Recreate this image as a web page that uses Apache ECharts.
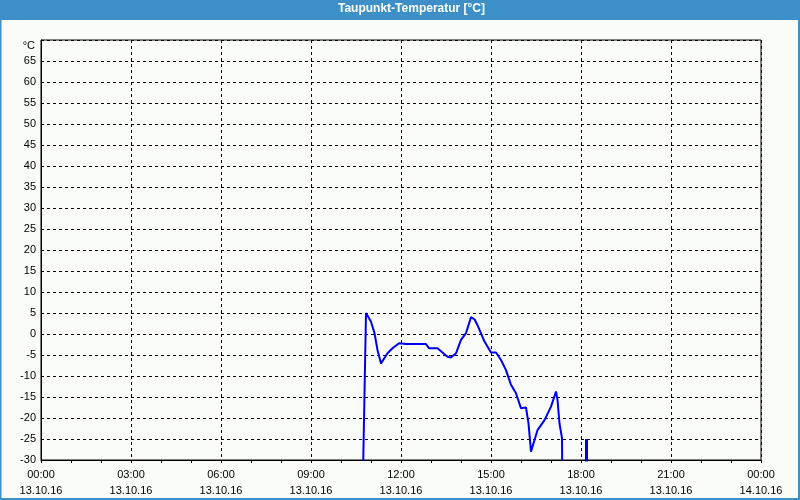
<!DOCTYPE html>
<html>
<head>
<meta charset="utf-8">
<script src="https://cdn.jsdelivr.net/npm/echarts@6/dist/echarts.min.js"></script>
<style>
html,body{margin:0;padding:0;background:#fff;}
#c{width:800px;height:500px;}
</style>
</head>
<body>
<div id="c"></div>
<script>
var titleText = 'Taupunkt-Temperatur [°C]';
var dayLabels = ['13.10.16','14.10.16'];
var yTicks = [-30,-25,-20,-15,-10,-5,0,5,10,15,20,25,30,35,40,45,50,55,60,65];
var yUnit = '°C';
// dew point, 13.10.16 (times HH:MM, values °C); -40 = drop below axis
var times = ['10:43','10:50','11:00','11:07','11:13','11:20','11:33','11:43','11:56','12:10','12:50','12:56','13:13','13:33','13:40','13:50','14:00','14:10','14:20','14:27','14:33','14:47','15:00','15:10','15:20','15:30','15:40','15:50','16:00','16:10','16:15','16:20','16:25','16:33','16:47','17:00','17:10','17:13','17:17','17:22','17:23'];
var values = [-40,5,2.9,0.2,-3.8,-7,-4.6,-3.4,-2.2,-2.4,-2.4,-3.4,-3.4,-5.4,-5.6,-4.6,-1.4,0.2,4.0,3.5,2.1,-1.8,-4.4,-4.4,-6.2,-8.6,-12.1,-14.1,-17.7,-17.5,-21.3,-28.0,-26.0,-22.9,-20.5,-17.3,-13.7,-15.7,-21.3,-24.8,-40];
var lateTimes = ['18:11','18:11'];
var lateValues = [-25,-40];

function toHours(t){ var p = t.split(':'); return +p[0] + (+p[1])/60; }
var data = times.map(function(t,i){ return [toHours(t), values[i]]; });
var lateData = lateTimes.map(function(t,i){ return [toHours(t), lateValues[i]]; });

function pad(n){return (n<10?'0':'')+n;}

var chart = echarts.init(document.getElementById('c'), null, {renderer:'canvas'});
var font = 'Liberation Sans, Arial, sans-serif';
chart.setOption({
  backgroundColor: '#fafcfa',
  animation: false,
  graphic: [
    {type:'rect', shape:{x:0,y:0,width:800,height:20}, style:{fill:'#3c90c7'}, z:10},
    {type:'rect', shape:{x:0.5,y:0.5,width:798.5,height:498.5}, style:{fill:'none', stroke:'#3c90c7', lineWidth:2}, z:10},
    {type:'text', left:338, top:3, style:{text:titleText, fill:'#ffffff', font:'bold 12px Liberation Sans, Arial, sans-serif'}, z:11}
  ],
  grid: {left:41, right:39, top:40, bottom:40, show:true, borderColor:'#000', borderWidth:1, backgroundColor:'transparent'},
  xAxis: {
    type:'value', min:0, max:24, interval:3,
    axisLine:{show:true, onZero:false, lineStyle:{color:'#000', width:1}},
    axisTick:{show:true, length:3, lineStyle:{color:'#000'}},
    minorTick:{show:true, splitNumber:3, length:3, lineStyle:{color:'#000'}},
    splitLine:{show:true, lineStyle:{color:'#000', type:[3,3], width:1}},
    axisLabel:{
      color:'#000', fontFamily:font, fontSize:11, lineHeight:16, margin:7, showMinLabel:true, showMaxLabel:true,
      formatter:function(v){
        var h = v % 24;
        return pad(h)+':00\n'+dayLabels[v >= 24 ? 1 : 0];
      }
    }
  },
  yAxis: {
    type:'value', min:-30, max:70, interval:5,
    axisLine:{show:true, onZero:false, lineStyle:{color:'#000'}},
    axisTick:{show:false},
    splitLine:{show:true, lineStyle:{color:'#000', type:[3,3], width:1}},
    name: yUnit, nameLocation:'end', nameGap:-6,
    nameTextStyle:{color:'#000', fontFamily:font, fontSize:11, align:'right', verticalAlign:'middle', padding:[0,6,0,0]},
    axisLabel:{
      color:'#000', fontFamily:font, fontSize:11, margin:5,
      formatter:function(v){ return yTicks.indexOf(v) >= 0 ? String(v) : ''; }
    }
  },
  series: [{
    type:'line', data:data, showSymbol:false, clip:true,
    lineStyle:{color:'#0000f0', width:2}, itemStyle:{color:'#0000f0'}
  },{
    type:'line', data:lateData, showSymbol:false, clip:true,
    lineStyle:{color:'#0000f0', width:3}, itemStyle:{color:'#0000f0'}
  }]
});
</script>
</body>
</html>
